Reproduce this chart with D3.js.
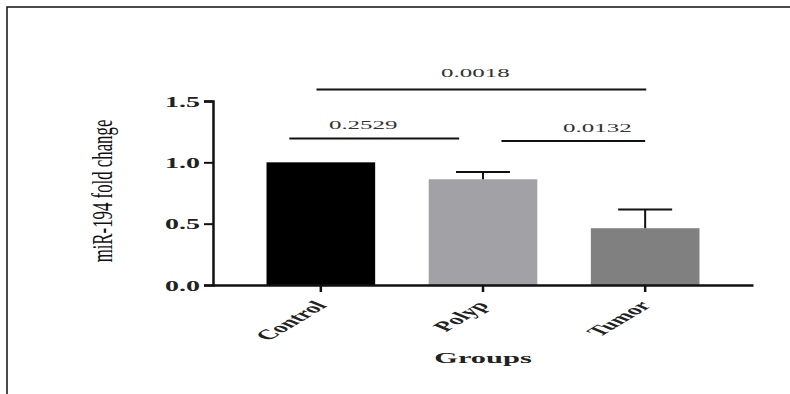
<!DOCTYPE html>
<html>
<head>
<meta charset="utf-8">
<script src="https://cdn.jsdelivr.net/npm/d3@7"></script>
<style>
  body { margin: 0; background: #fff; }
  text { font-family: "Liberation Serif", "Times New Roman", serif; }
</style>
</head>
<body>
<svg id="chart" width="790" height="394"></svg>
<script>
// data
var groups = ["Control", "Polyp", "Tumor"];
var foldChange = [1.0, 0.862, 0.463];
var errorUp = [0, 0.059, 0.152];
var barColours = ["#000000", "#a2a1a5", "#808080"];
var yTicks = [0.0, 0.5, 1.0, 1.5];

// significance brackets: from group, to group, p value, height in y units
var pFrom = ["Control", "Polyp", "Control"];
var pTo = ["Polyp", "Tumor", "Tumor"];
var pValues = ["0.2529", "0.0132", "0.0018"];
var pLevel = [1.195, 1.173, 1.594];
// where in each band the bracket line starts / ends, and where the label sits
var pStartFrac = [0.21, 0.67, 0.46];
var pEndFrac = [0.28, 0.5, 0.51];
var pLabelShift = [-11, 24, -6];

var svg = d3.select("#chart"),
    margin = {top: 101, right: 37, bottom: 109, left: 213},
    width = 790 - margin.left - margin.right,
    height = 394 - margin.top - margin.bottom;

// frame lines (top and left only)
svg.append("path")
    .attr("d", "M7,394V7H790")
    .attr("fill", "none")
    .attr("stroke", "#111")
    .attr("stroke-width", 1.5);

var g = svg.append("g")
    .attr("transform", "translate(" + margin.left + "," + margin.top + ")");

var x = d3.scaleBand()
    .domain(groups)
    .range([0, width])
    .paddingInner(0.33)
    .paddingOuter(0.33);

var y = d3.scaleLinear()
    .domain([0, 1.5])
    .range([height, 0]);

// bars
g.selectAll(".bar")
    .data(groups)
    .enter().append("rect")
    .attr("class", "bar")
    .attr("x", function(d) { return x(d); })
    .attr("width", x.bandwidth())
    .attr("y", function(d, i) { return y(foldChange[i]); })
    .attr("height", function(d, i) { return height - y(foldChange[i]); })
    .attr("fill", function(d, i) { return barColours[i]; });

// error bars (upper only)
var capW = 54;
groups.forEach(function(d, i) {
  if (!errorUp[i]) return;
  var cx = x(d) + x.bandwidth() / 2;
  g.append("line")
      .attr("x1", cx).attr("x2", cx)
      .attr("y1", y(foldChange[i])).attr("y2", y(foldChange[i] + errorUp[i]))
      .attr("stroke", "#111").attr("stroke-width", 2);
  g.append("line")
      .attr("x1", cx - capW / 2).attr("x2", cx + capW / 2)
      .attr("y1", y(foldChange[i] + errorUp[i])).attr("y2", y(foldChange[i] + errorUp[i]))
      .attr("stroke", "#111").attr("stroke-width", 2);
});

// y axis
var yAxis = g.append("g")
    .call(d3.axisLeft(y).tickValues(yTicks).tickFormat(d3.format(".1f")).tickSize(9).tickPadding(4));
yAxis.select(".domain").attr("stroke-width", 2.5).attr("stroke", "#111");
yAxis.selectAll(".tick line").attr("stroke-width", 2).attr("stroke", "#111");
yAxis.selectAll(".tick text")
    .attr("font-family", "Liberation Serif")
    .attr("font-weight", "bold")
    .attr("font-size", 14)
    .attr("fill", "#222")
    .attr("x", null).attr("dy", null)
    .attr("text-anchor", "end")
    .attr("transform", "translate(-13,5) scale(2,1)");

// x axis
var xAxis = g.append("g")
    .attr("transform", "translate(0," + height + ")")
    .call(d3.axisBottom(x).tickSize(7).tickSizeOuter(0));
xAxis.select(".domain").attr("stroke-width", 2.5).attr("stroke", "#111");
xAxis.selectAll(".tick line").attr("stroke-width", 2.5).attr("stroke", "#111");
xAxis.selectAll(".tick text")
    .attr("font-family", "Liberation Serif")
    .attr("font-weight", "bold")
    .attr("font-size", 14)
    .attr("fill", "#222")
    .attr("y", null).attr("dy", null)
    .attr("text-anchor", "end")
    .attr("transform", "translate(7,21) scale(2,1) rotate(-50)");

// significance brackets
pValues.forEach(function(p, i) {
  var x1 = x(pFrom[i]) + x.bandwidth() * pStartFrac[i];
  var x2 = x(pTo[i]) + x.bandwidth() * pEndFrac[i];
  var yy = y(pLevel[i]);
  g.append("line")
      .attr("x1", x1).attr("x2", x2)
      .attr("y1", yy).attr("y2", yy)
      .attr("stroke", "#111").attr("stroke-width", 2);
  g.append("text")
      .attr("text-anchor", "middle")
      .attr("font-size", 13.5)
      .attr("fill", "#333")
      .attr("transform", "translate(" + ((x1 + x2) / 2 + pLabelShift[i]) + "," + (yy - 9.5 - (i == 2 ? 2.5 : 0)) + ") scale(1.85,1)")
      .text(p);
});

// axis titles
svg.append("text")
    .attr("text-anchor", "middle")
    .attr("font-weight", "bold")
    .attr("font-size", 14.5)
    .attr("fill", "#222")
    .attr("transform", "translate(483,363) scale(2.1,1)")
    .text("Groups");

svg.append("text")
    .attr("text-anchor", "middle")
    .attr("font-size", 16.8)
    .attr("fill", "#111")
    .attr("transform", "translate(112,191) scale(1.75,1) rotate(-90)")
    .text("miR-194 fold change");
</script>
</body>
</html>
